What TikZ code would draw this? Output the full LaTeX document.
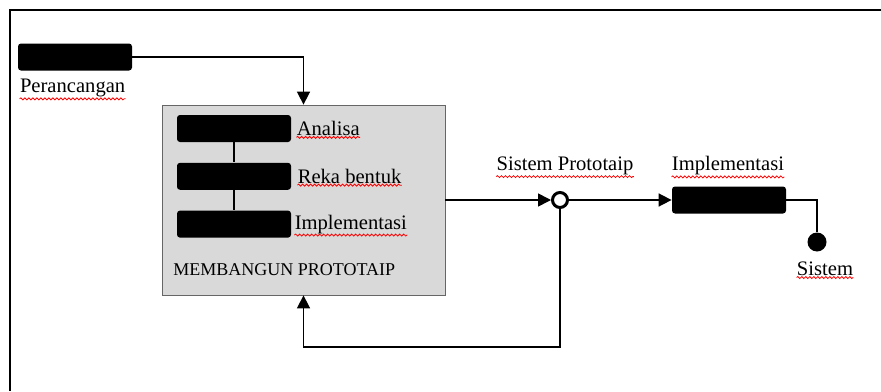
\documentclass[tikz,border=0pt]{standalone}
\usepackage{fontspec}
\setmainfont{Liberation Serif}
\usetikzlibrary{arrows.meta, positioning, decorations.pathmorphing}

\definecolor{boxgray}{RGB}{217,217,217}

\begin{document}
\begin{tikzpicture}[x=0.5pt, y=-0.5pt,
    every node/.style={inner sep=0pt},
    blk/.style={fill=black, rounded corners=1.5pt, minimum width=57pt, minimum height=13.5pt},
    lbl/.style={font=\fontsize{10.3}{12}\selectfont},
    flow/.style={line width=0.8pt, -{Triangle[length=6.5pt, width=6.5pt]}},
    spell/.style={red, line width=0.4pt, decorate, decoration={snake, amplitude=0.5pt, segment length=2pt}}]

\useasboundingbox (0,0) rectangle (881,391);

% Outer frame (only top and left edges show)
\draw[line width=0.8pt] (10,391) -- (10,10) -- (881,10);

% Perancangan
\node[blk] (design) at (75,57) {};
\node[lbl, anchor=north west] (design-lbl) at ([xshift=1pt, yshift=-4pt]design.south west) {Perancangan};

% Membangun prototaip (gray box)
\node[draw=black!60, fill=boxgray, minimum width=141.5pt, minimum height=95pt] (proto) at (303.5,200) {};

% Steps inside the gray box
\node[blk] (analyse) at (234,128.5) {};
\node[blk, below=10pt of analyse] (shape) {};
\node[blk, below=10pt of shape] (build) {};
\draw[line width=0.6pt] (analyse.south) -- (shape.north);
\draw[line width=0.6pt] (shape.south) -- (build.north);

\node[lbl, right=2.5pt of analyse] (analyse-lbl) {Analisa};
\node[lbl, right=3pt of shape] (shape-lbl) {Reka bentuk};
\node[lbl, right=1.5pt of build] (build-lbl) {Implementasi};
\node[font=\fontsize{9}{11}\selectfont, anchor=west] (proto-lbl) at (173,270) {MEMBANGUN PROTOTAIP};

% Prototype output (open circle)
\node[circle, draw, line width=1.5pt, fill=white, minimum size=7.5pt] (check) at (560,200) {};
\node[lbl] (check-lbl) at (565,166) {Sistem Prototaip};

% Implementasi and final system
\node[blk] (impl) at (729,200) {};
\node[lbl] (impl-lbl) at (728,166) {Implementasi};
\node[circle, fill=black, minimum size=9.5pt] (system) at (817,242) {};
\node[lbl] (system-lbl) at (825,269) {Sistem};

% Connectors
\draw[flow] (design.east) -| (proto.north);
\draw[flow] (proto.east) -- (check.west);
\draw[flow] (check.east) -- (impl.west);
\draw[line width=0.8pt] (impl.east) -| (system.north);
\coordinate (loop) at (560,347);
\draw[flow] (check.south) -- (loop) -| (proto.south);

% Spell-check underlines
\foreach \n in {design-lbl, analyse-lbl, shape-lbl, build-lbl, check-lbl, impl-lbl, system-lbl} {
    \draw[spell] ([yshift=-0.6pt]\n.south west) -- ([yshift=-0.6pt]\n.south east);
}
\end{tikzpicture}
\end{document}
